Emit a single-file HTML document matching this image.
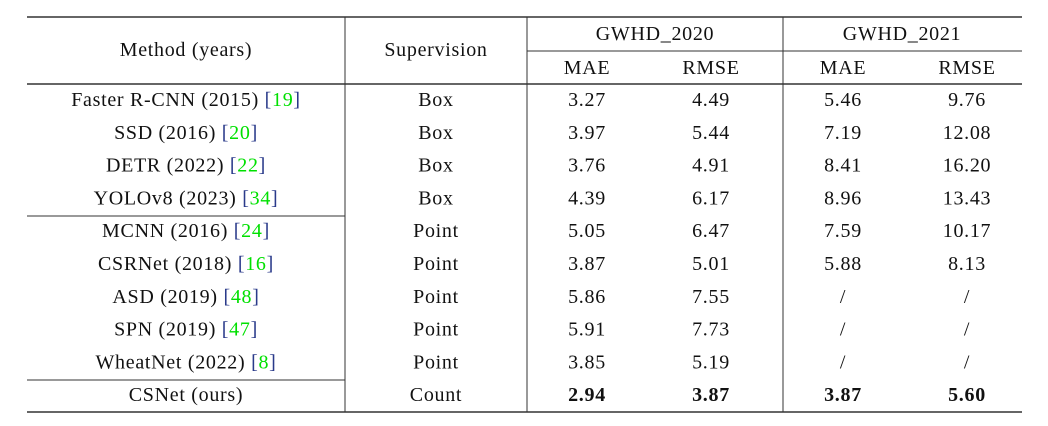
<!DOCTYPE html>
<html><head><meta charset="utf-8"><style>
html,body{margin:0;padding:0;background:#fff;}
svg{display:block;font-family:"Liberation Serif",serif;font-size:20px;letter-spacing:0.7px;fill:#111;}
.c{fill:#00e000}.b{fill:#2a3a8a}
</style></head><body>
<svg width="1048" height="426" viewBox="0 0 1048 426">
<g stroke="#333">
<line x1="27" y1="17" x2="1022" y2="17" stroke-width="1.6"/>
<line x1="527" y1="51" x2="1022" y2="51" stroke-width="1"/>
<line x1="27" y1="84" x2="1022" y2="84" stroke-width="1.6"/>
<line x1="27" y1="216" x2="345" y2="216" stroke-width="1"/>
<line x1="27" y1="380" x2="345" y2="380" stroke-width="1"/>
<line x1="27" y1="412" x2="1022" y2="412" stroke-width="1.6"/>
<line x1="345" y1="17" x2="345" y2="412" stroke-width="1"/>
<line x1="527" y1="17" x2="527" y2="412" stroke-width="1"/>
<line x1="783" y1="17" x2="783" y2="412" stroke-width="1"/>
</g>
<g text-anchor="middle" dominant-baseline="central">
<text x="186" y="50">Method (years)</text>
<text x="436" y="50">Supervision</text>
<text x="655" y="34">GWHD_2020</text>
<text x="902" y="34">GWHD_2021</text>
<text x="587" y="68">MAE</text>
<text x="711" y="68">RMSE</text>
<text x="843" y="68">MAE</text>
<text x="967" y="68">RMSE</text>
</g>
<g id="rows" text-anchor="middle" dominant-baseline="central"></g>
</svg>
<script>
const methods=["Faster R-CNN (2015)","SSD (2016)","DETR (2022)","YOLOv8 (2023)","MCNN (2016)","CSRNet (2018)","ASD (2019)","SPN (2019)","WheatNet (2022)","CSNet (ours)"];
const cites=["19","20","22","34","24","16","48","47","8",""];
const sup=["Box","Box","Box","Box","Point","Point","Point","Point","Point","Count"];
const mae20=["3.27","3.97","3.76","4.39","5.05","3.87","5.86","5.91","3.85","2.94"];
const rmse20=["4.49","5.44","4.91","6.17","6.47","5.01","7.55","7.73","5.19","3.87"];
const mae21=["5.46","7.19","8.41","8.96","7.59","5.88","/","/","/","3.87"];
const rmse21=["9.76","12.08","16.20","13.43","10.17","8.13","/","/","/","5.60"];
const g=document.getElementById('rows');
const NS="http://www.w3.org/2000/svg";
function yOf(i){return 100+i*32.8;}
methods.forEach((m,i)=>{
  const y=yOf(i);const bold=i===methods.length-1;
  const t=document.createElementNS(NS,'text');
  
  
  t.setAttribute('x',186);t.setAttribute('y',y);
  if(cites[i]){
    t.innerHTML=m+' <tspan class="b">[</tspan><tspan class="c">'+cites[i]+'</tspan><tspan class="b">]</tspan>';
  } else t.textContent=m;
  g.appendChild(t);
  const cols=[[436,sup[i],false],[587,mae20[i],bold],[711,rmse20[i],bold],[843,mae21[i],bold],[967,rmse21[i],bold]];
  cols.forEach(c=>{
    const e=document.createElementNS(NS,'text');
    
    
    e.setAttribute('x',c[0]);e.setAttribute('y',y);
    if(c[2])e.setAttribute('font-weight','bold');
    e.textContent=c[1];g.appendChild(e);
  });
});
</script>
</body></html>
